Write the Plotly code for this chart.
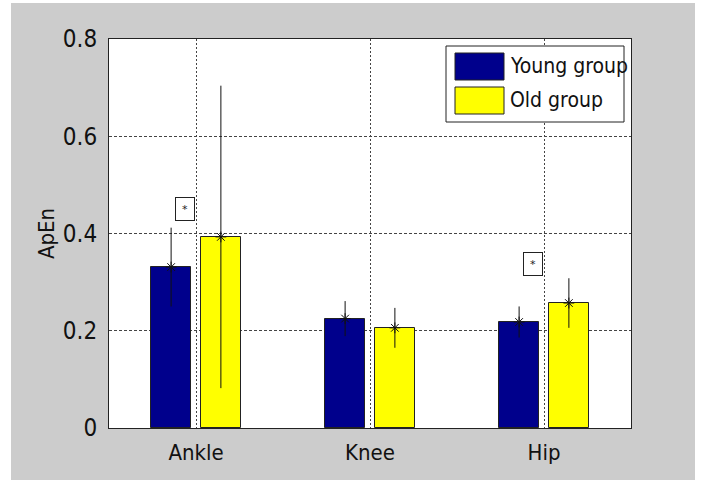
import plotly.graph_objects as go

# Joint ApEn means and standard deviations per age group
joints = ["Ankle", "Knee", "Hip"]
young_mean = [0.331, 0.225, 0.218]
young_sd = [0.081, 0.036, 0.032]
old_mean = [0.393, 0.206, 0.257]
old_sd = [0.311, 0.041, 0.051]
group_names = ["Young group", "Old group"]
group_colors = ["#00008c", "#ffff00"]

# Significance markers: joint index and height of the boxed asterisk
sig_joint = [1, 3]
sig_height = [0.450, 0.337]

FONT = "DejaVu Sans Condensed, Liberation Sans Narrow, sans-serif"
BAR_W = 0.226
BAR_SHIFT = 0.143
SIG_SHIFT = -0.063

W, H = 703, 480
L, R, T, B = 109, 72, 39, 52
PW, PH = W - L - R, H - T - B


def px_x(p):
    return (p - L) / PW


def px_y(p):
    return (H - B - p) / PH


xs = list(range(1, len(joints) + 1))
fig = go.Figure()

series = [(young_mean, young_sd), (old_mean, old_sd)]
for k, (means, sds) in enumerate(series):
    shift = -BAR_SHIFT if k == 0 else BAR_SHIFT
    xpos = [x + shift for x in xs]
    fig.add_trace(go.Bar(
        x=xpos, y=means, width=BAR_W, name=group_names[k],
        marker=dict(color=group_colors[k], line=dict(color="#222222", width=1)),
        showlegend=False,
    ))
    fig.add_trace(go.Scatter(
        x=xpos, y=means, mode="markers", showlegend=False,
        marker=dict(symbol="asterisk-open", size=9, color="#111111",
                    line=dict(color="#111111", width=1)),
        error_y=dict(type="data", array=sds, visible=True, width=0,
                     thickness=1, color="#111111"),
    ))

for j, h in zip(sig_joint, sig_height):
    fig.add_annotation(
        x=j + SIG_SHIFT, y=h, xref="x", yref="y", text="*", showarrow=False,
        font=dict(family="DejaVu Sans", size=11, color="#222222"),
        width=18, height=22, borderpad=0, borderwidth=1,
        bordercolor="#222222", bgcolor="white",
    )

# Outer white frame around the grey figure panel
frame = [(-1, 11, -1, H + 1), (695, W + 1, -1, H + 1), (-1, W + 1, -1, 3)]
for x0, x1, y0, y1 in frame:
    fig.add_shape(type="rect", xref="paper", yref="paper",
                  x0=px_x(x0), x1=px_x(x1), y0=px_y(y1), y1=px_y(y0),
                  fillcolor="white", line=dict(width=0), layer="above")

# Legend box with swatches
fig.add_shape(type="rect", xref="paper", yref="paper",
              x0=px_x(446), x1=px_x(624), y0=px_y(122), y1=px_y(46),
              fillcolor="white", line=dict(color="#222222", width=1), layer="above")
for k, name in enumerate(group_names):
    top = 53 + 34 * k
    fig.add_shape(type="rect", xref="paper", yref="paper",
                  x0=px_x(455), x1=px_x(504), y0=px_y(top + 27), y1=px_y(top),
                  fillcolor=group_colors[k], line=dict(color="#222222", width=1),
                  layer="above")
    fig.add_annotation(x=px_x(508), y=px_y(top + 13.5), xref="paper", yref="paper",
                       text=name, showarrow=False, xanchor="left", yanchor="middle",
                       font=dict(family=FONT, size=21, color="#111111"))

fig.update_layout(
    width=W, height=H,
    margin=dict(l=L, r=R, t=T, b=B, pad=0),
    paper_bgcolor="#cccccc", plot_bgcolor="white",
    font=dict(family=FONT, color="#111111"),
    bargap=0,
    xaxis=dict(range=[0.5, 3.5], tickvals=xs, ticktext=joints,
               showgrid=True, gridcolor="#444444", griddash="2px,2px", gridwidth=1,
               showline=True, linecolor="#222222", linewidth=1, mirror=True,
               ticks="", zeroline=False, tickfont=dict(size=22),
               ticklabelstandoff=5),
    yaxis=dict(range=[0, 0.8], dtick=0.2, tick0=0,
               showgrid=True, gridcolor="#444444", griddash="3px,2px", gridwidth=1,
               showline=True, linecolor="#222222", linewidth=1, mirror=True,
               ticks="", zeroline=False, tickfont=dict(size=24),
               ticklabelstandoff=6,
               title=dict(text="ApEn", font=dict(size=22), standoff=2)),
)

fig.write_html("out.html")
